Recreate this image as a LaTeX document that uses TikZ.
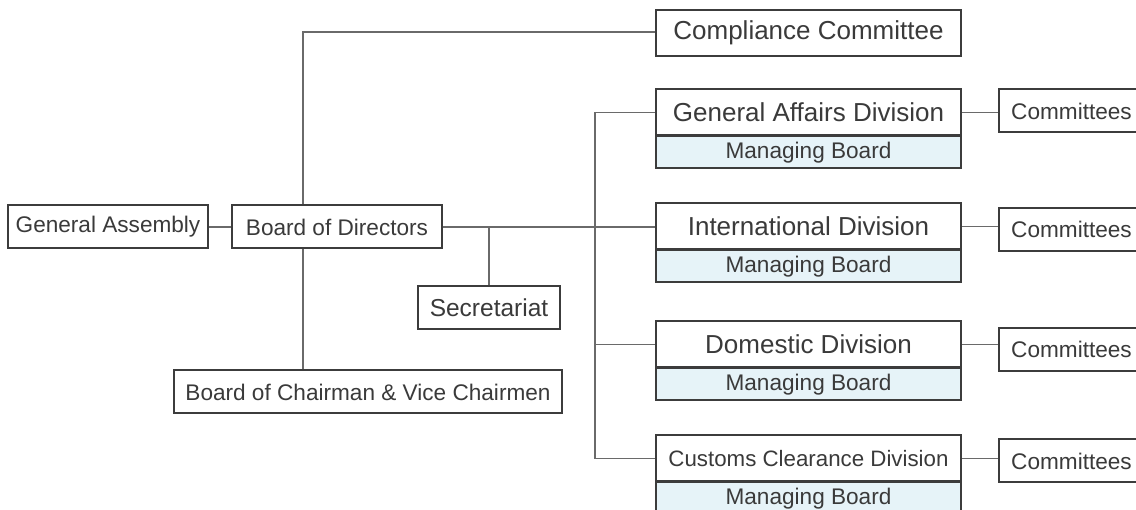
\documentclass[tikz,border=0pt]{standalone}
\usepackage{fontspec}
\setmainfont{Liberation Sans}
\definecolor{txt}{HTML}{3A3A3A}
\definecolor{edgec}{HTML}{3C3C3C}
\definecolor{wire}{HTML}{6A6A6A}
\definecolor{mb}{HTML}{E6F3F8}
\newcommand\fsz[1]{\fontsize{#1}{#1}\selectfont}
\begin{document}
\begin{tikzpicture}[x=1pt,y=-1pt,
  box/.style={draw=edgec, line width=2pt, fill=white, text=txt, inner sep=0pt, anchor=center},
  small/.style={font=\fsz{22.6}},
  big/.style={font=\fsz{26}},
  divbox/.style={box, big, minimum width=305, minimum height=46},
  boardbox/.style={box, small, fill=mb, minimum width=305, minimum height=32},
  combox/.style={box, small, minimum width=146, minimum height=43},
  wireline/.style={draw=wire, line width=1.9pt}]
\useasboundingbox (0,0) rectangle (1136,510);
\clip (0,0) rectangle (1136,510);

% left side
\node[box, small, minimum width=200, minimum height=43] (ga) at (108,227) {General Assembly};
\node[box, small, minimum width=210, minimum height=43] (bod) at (337,227) {Board of Directors};
\node[box, font=\fsz{24.5}, minimum width=142, minimum height=43] (sec) at (489,307.5) {Secretariat};
\node[box, small, minimum width=388, minimum height=43] (bcv) at (368,392) {Board of Chairman \& Vice Chairmen};
\node[box, big, minimum width=305, minimum height=46] (cc) at (808.5,33) {Compliance Committee};

% divisions
\node[divbox] (gad) at (808.5,112.5) {General Affairs Division};
\node[boardbox] (gadb) at (808.5,152.5) {Managing Board};
\node[divbox] (intl) at (808.5,226.5) {International Division};
\node[boardbox] (intlb) at (808.5,266.5) {Managing Board};
\node[divbox] (dom) at (808.5,344.5) {Domestic Division};
\node[boardbox] (domb) at (808.5,384.5) {Managing Board};
\node[divbox, font=\fsz{22.3}] (cust) at (808.5,458.5) {Customs Clearance Division};
\node[boardbox] (custb) at (808.5,498.5) {Managing Board};

% committees
\node[combox] (c1) at (1071.5,111) {Committees};
\node[combox] (c2) at (1071.5,229.5) {Committees};
\node[combox] (c3) at (1071.5,349.5) {Committees};
\node[combox] (c4) at (1071.5,461) {Committees};

% connectors
\coordinate (k1) at (303,32);
\coordinate (bt) at (595,112.5);
\draw[wireline] (ga) -- (bod);
\draw[wireline] (k1 |- bod.north) -- (k1) -- (k1 -| cc.west);
\draw[wireline] (k1 |- bod.south) -- (k1 |- bcv.north);
\draw[wireline] (bod.east) -- (bod.east -| intl.west);
\draw[wireline] (sec.north) -- (sec.north |- bod.east);
\draw[wireline] (gad.west) -- (bt) -- (bt |- cust.west) -- (cust.west);
\draw[wireline] (bt |- dom.west) -- (dom.west);
\draw[wireline] (gad.east) -- (gad.east -| c1.west);
\draw[wireline] (intl.east) -- (intl.east -| c2.west);
\draw[wireline] (dom.east) -- (dom.east -| c3.west);
\draw[wireline] (cust.east) -- (cust.east -| c4.west);
\end{tikzpicture}
\end{document}
